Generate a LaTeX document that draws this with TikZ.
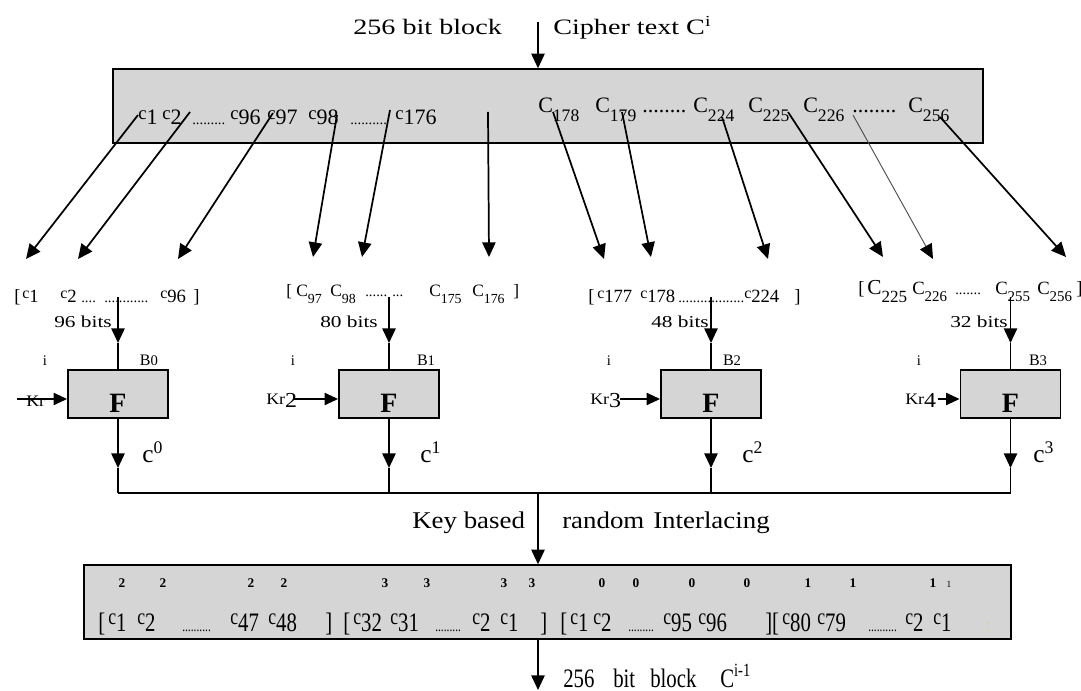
\documentclass[tikz,border=0pt]{standalone}
\usepackage{fontspec}
\setmainfont{Liberation Serif}
\newfontfamily\widefont{Liberation Serif}[FakeStretch=1.28]
\newfontfamily\keyfont{Liberation Serif}[FakeStretch=1.12]
\newfontfamily\narrowfont{Liberation Serif}[FakeStretch=0.78]
\usepackage{graphicx}
\usetikzlibrary{arrows.meta}
\definecolor{barfill}{RGB}{213,213,213}
\definecolor{faint}{RGB}{226,208,160}
\newcommand\fs[1]{\fontsize{#1}{#1}\selectfont}
\newcommand\cnum[1]{\raisebox{.5ex}{\scalebox{.85}{c}}#1}
\newcommand\Cnum[1]{C\raisebox{-.8ex}{\scalebox{.8}{#1}}}
\newcommand\dotsN[1]{\ifnum#1>0 .\expandafter\dotsN\expandafter{\the\numexpr#1-1\relax}\fi}
\newcommand\dts[2]{{\fs{#1}\dotsN{#2}}}
\begin{document}
\begin{tikzpicture}[x=0.75pt,y=-0.75pt,
  txt/.style={inner sep=0pt, anchor=base west},
  ctxt/.style={inner sep=0pt, anchor=base},
  arr/.style={line width=1.3pt, -{Triangle[length=11pt,width=10pt]}},
  karr/.style={line width=1.3pt, -{Triangle[length=10pt,width=9pt]}},
  ln/.style={line width=1.3pt},
  bar/.style={draw, line width=1.1pt, fill=barfill, minimum width=#1, minimum height=55.5pt, inner sep=0pt},
  fbox/.style={draw, line width=1.4pt, fill=barfill, minimum width=75pt, minimum height=36pt, inner sep=0pt}
]
\useasboundingbox (0,0) rectangle (1081,691);

% title and input
\node[txt,font=\widefont\fs{16.5}] (title) at (353,35) {256 bit block};
\node[txt,font=\widefont\fs{16.5}] (cipher) at (553,35) {Cipher text C\textsuperscript{i}};
\coordinate (tin) at (538,22);
\node[bar=652.5pt] (topbar) at (548,106) {};
\draw[arr] (tin) -- (tin |- topbar.north);

% top bar text
\begin{scope}[every node/.style={txt,font=\fs{16.5}}]
\foreach \n/\x/\t in {tl1/138/{\cnum1},tl2/162/{\cnum2},tl3/192/{\dts{11}{9}},tl4/230/{\cnum{96}},tl5/267/{\cnum{97}},tl6/308/{\cnum{98}},tl7/350/{\dts{11}{10}},tl8/395/{\cnum{176}}}
  {\node (\n) at (\x,125) {\t};}
\foreach \n/\x/\t in {tr1/538/{\Cnum{178}},tr2/595/{\Cnum{179}},tr3/642/{\dts{16.5}{8}},tr4/693/{\Cnum{224}},tr5/748/{\Cnum{225}},tr6/803/{\Cnum{226}},tr7/852/{\dts{16.5}{8}},tr8/908/{\Cnum{256}}}
  {\node (\n) at (\x,113) {\t};}
\end{scope}

% distribution arrows
\foreach \i/\sx/\sy/\tx/\ty in {1/138/115/26/259,2/190/112/78/259,3/273/113/178/259,4/337/115/313/257,5/390/110/362/257,6/488/112/489/257,7/553/112/604/259,8/622/112/651/257,9/722/117/768/259,10/788/112/883/257,11/853/115/933/259,12/940/117/1066/257}
  {\coordinate (s\i) at (\sx,\sy); \coordinate (t\i) at (\tx,\ty);}
\foreach \i in {1,...,10,12} {\draw[arr] (s\i) -- (t\i);}
\draw[line width=0.7pt, draw=black!70, -{Triangle[length=11pt,width=10pt,color=black]}] (s11) -- (t11);

% bracket rows
\begin{scope}[every node/.style={txt,font=\fs{14}}]
\foreach \n/\x/\t in {ga1/14/{[},ga2/22/{\cnum1},ga3/60/{\cnum2},ga4/81/{\dts{11}{4}},ga5/104/{\dts{11}{12}},ga6/160/{\cnum{96}},ga7/193/{]}}
  {\node (\n) at (\x,303) {\t};}
\foreach \n/\x/\t in {gc1/588/{[},gc2/597/{\cnum{177}},gc3/640/{\cnum{178}},gc4/678/{\dts{11}{18}},gc5/744/{\cnum{224}},gc6/794/{]}}
  {\node (\n) at (\x,303) {\t};}
\foreach \n/\x/\t in {gd1/858/{[},gd3/912/{\Cnum{226}},gd4/955/{\dts{11}{7}},gd5/995/{\Cnum{255}},gd6/1037/{\Cnum{256}},gd7/1076/{]}}
  {\node (\n) at (\x,295) {\t};}
\node[font=\fs{16}] (gd2) at (867,295) {\Cnum{225}};
\end{scope}
\begin{scope}[every node/.style={txt,font=\fs{13}}]
\foreach \n/\x/\t in {gb1/286/{[},gb2/296/{\Cnum{97}},gb3/330/{\Cnum{98}},gb4/365/{\dts{11}{6}},gb5/392/{\dts{11}{3}},gb6/429/{\Cnum{175}},gb7/472/{\Cnum{176}},gb8/513/{]}}
  {\node (\n) at (\x,297) {\t};}
\end{scope}

% bit counts
\foreach \n/\x/\t in {bt0/83/96,bt1/349/80,bt2/680/48,bt3/979/32}
  {\node[ctxt,font=\widefont\fs{12.5}] (\n) at (\x,328) {\t\ bits};}

% F boxes
\foreach \i/\x in {0/118,1/389,2/711,3/1010.5} {
  \node[fbox] (F\i) at (\x,394) {};
  \node[ctxt,font=\fs{21}\bfseries] (Fl\i) at (\x,412) {F};
  \coordinate (in\i) at (\x,297);
  \coordinate (im\i) at (\x,343);
  \draw[arr] (in\i) -- (im\i);
  \draw[ln] (im\i) -- (F\i.north);
  \coordinate (o\i) at (\x,468);
  \coordinate (j\i) at (\x,493);
  \draw[arr] (F\i.south) -- (o\i);
  \draw[ln] (o\i) -- (j\i);
}

% i and B labels
\foreach \n/\x in {i0/45,i1/293,i2/609,i3/919}
  {\node[ctxt,font=\fs{11}] (\n) at (\x,366) {i};}
\foreach \n/\x/\d in {B0/149/0,B1/426/1,B2/732/2,B3/1038/3}
  {\node[ctxt,font=\fs{12}] (\n) at (\x,366) {B{\fs{11}\d}};}

% key inputs
\node[txt,font=\keyfont\fs{12}] (kr0) at (26,406) {Kr};
\coordinate (ka0) at (17,399);
\draw[karr] (ka0) -- (ka0 -| F0.west);
\foreach \i/\x/\ax/\d in {1/266/294/2,2/590/620/3,3/905/938/4} {
  \node[txt,font=\keyfont\fs{12}] (kr\i) at (\x,404) {Kr\raisebox{-.45ex}{\fs{16}\d}};
  \coordinate (ka\i) at (\ax,399);
  \draw[karr] (ka\i) -- (ka\i -| F\i.west);
}

% output labels
\foreach \n/\x/\d in {c0/142/0,c1/420/1,c2/742/2,c3/1033/3}
  {\node[txt,font=\fs{19}] (\n) at (\x,462) {c\textsuperscript{\d}};}

% interlacing
\coordinate (jc) at (538,493);
\draw[ln] (j0) -- (j3);
\node[bar=695.25pt] (botbar) at (547.5,602) {};
\draw[arr] (jc) -- (jc |- botbar.north);
\node[txt,font=\keyfont\fs{18}] (kb1) at (412,528) {Key based};
\node[txt,font=\keyfont\fs{18}] (kb2) at (562,528) {random};
\node[txt,font=\keyfont\fs{18}] (kb3) at (653,528) {Interlacing};

% bottom bar text
\foreach \n/\x/\t in {u1/122/2,u2/163/2,u3/251/2,u4/284/2,u5/385/3,u6/427/3,u7/504/3,u8/532/3,u9/602/0,u10/636/0,u11/692/0,u12/747/0,u13/808/1,u14/853/1,u15/933/1}
  {\node[ctxt,font=\fs{10}\bfseries] (\n) at (\x,587) {\t};}
\node[ctxt,font=\fs{7}] (u16) at (949,587) {1};
\begin{scope}[every node/.style={txt,font=\narrowfont\fs{20}}]
\foreach \n/\x/\t in {w1/98/{[},w2/108/{\cnum1},w3/137/{\cnum2},w4/182/{\dts{11}{10}},w5/230/{\cnum{47}},w6/268/{\cnum{48}},w7/325/{]},w8/343/{[},w9/353/{\cnum{32}},w10/390/{\cnum{31}},w11/435/{\dts{11}{9}},w12/472/{\cnum2},w13/500/{\cnum1},w14/540/{]},w15/560/{[},w16/570/{\cnum1},w17/593/{\cnum2},w18/628/{\dts{11}{9}},w19/663/{\cnum{95}},w20/698/{\cnum{96}},w21/765/{][},w22/782/{\cnum{80}},w23/817/{\cnum{79}},w24/868/{\dts{11}{10}},w25/905/{\cnum2},w26/933/{\cnum1}}
  {\node (\n) at (\x,631) {\t};}
\end{scope}
\node[txt,font=\fs{14},text=faint] (w27) at (986,631) {:};

% output
\coordinate (bo) at (538,690);
\draw[arr] (bo |- botbar.south) -- (bo);
\node[txt,font=\narrowfont\fs{20}] (ob1) at (563,687) {256};
\node[txt,font=\narrowfont\fs{20}] (ob2) at (613,687) {bit};
\node[txt,font=\narrowfont\fs{20}] (ob3) at (650,687) {block};
\node[txt,font=\narrowfont\fs{20}] (ob4) at (720,687) {C\textsuperscript{i-1}};
\end{tikzpicture}
\end{document}
